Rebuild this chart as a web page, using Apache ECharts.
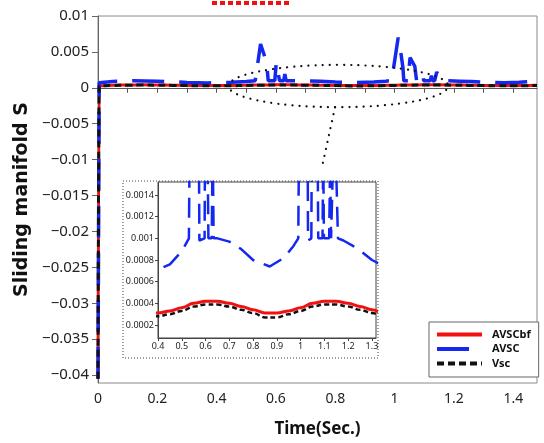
<!DOCTYPE html>
<html>
<head>
<meta charset="utf-8">
<script src="https://cdn.jsdelivr.net/npm/echarts@6/dist/echarts.min.js"></script>
<style>
  html, body { margin: 0; padding: 0; background: #fff; }
  #main { width: 544px; height: 443px; }
</style>
</head>
<body>
<div id="main"></div>
<script>
// time points used by the smooth curves (AVSCbf, Vsc)
var tWave = [0, 0.004, 0.05, 0.1, 0.15, 0.2, 0.25, 0.3, 0.35, 0.4, 0.45, 0.5, 0.55, 0.6, 0.65, 0.7,
  0.75, 0.8, 0.85, 0.9, 0.95, 1.0, 1.05, 1.1, 1.15, 1.2, 1.25, 1.3, 1.35, 1.4, 1.45, 1.48];
var avscbf = [-0.0405, 0.0003, 0.00036, 0.0004, 0.00042, 0.0004, 0.00037, 0.00034, 0.00031, 0.00031,
  0.00033, 0.00036, 0.0004, 0.00042, 0.00042, 0.0004, 0.00037, 0.00034, 0.00031, 0.00031, 0.00033,
  0.00036, 0.0004, 0.00042, 0.00042, 0.0004, 0.00037, 0.00034, 0.00031, 0.00031, 0.00033, 0.00035];
var vsc = [-0.0405, 0.00027, 0.00033, 0.00037, 0.00039, 0.00037, 0.00034, 0.00031, 0.00028, 0.00028,
  0.0003, 0.00033, 0.00037, 0.00039, 0.00039, 0.00037, 0.00034, 0.00031, 0.00027, 0.00027, 0.0003,
  0.00033, 0.00037, 0.00039, 0.00039, 0.00037, 0.00034, 0.00031, 0.00028, 0.00028, 0.0003, 0.00032];

// AVSC has chattering spikes, so its own time points
var tAvsc = [0, 0.004, 0.05, 0.12, 0.2, 0.3, 0.37, 0.45, 0.5, 0.53, 0.548, 0.568, 0.574, 0.596, 0.601,
  0.607, 0.612, 0.626, 0.63, 0.634, 0.65, 0.7, 0.75, 0.8, 0.87, 0.93, 0.97, 0.99, 1.012, 1.022, 1.028,
  1.031, 1.045, 1.052, 1.058, 1.068, 1.074, 1.092, 1.095, 1.098, 1.12, 1.124, 1.128, 1.135, 1.142,
  1.15, 1.157, 1.18, 1.22, 1.26, 1.3, 1.37, 1.42, 1.46, 1.47, 1.48];
var avsc = [-0.0405, 0.0007, 0.00088, 0.001, 0.00092, 0.00075, 0.00068, 0.00076, 0.00088, 0.001, 0.0061,
  0.0036, 0.00098, 0.001, 0.0035, 0.0035, 0.001, 0.001, 0.0019, 0.001, 0.001, 0.00097, 0.0009, 0.0008,
  0.00074, 0.00082, 0.00093, 0.001, 0.007, 0.0046, 0.0028, 0.00098, 0.001, 0.0042, 0.0042, 0.003, 0.001,
  0.001, 0.0018, 0.001, 0.001, 0.0017, 0.001, 0.001, 0.0022, 0.0016, 0.001, 0.00098, 0.00093, 0.00087,
  0.0008, 0.00072, 0.00078, 0.0009, 0.0012, 0.0016];

var mainYTicks = [-0.04, -0.035, -0.03, -0.025, -0.02, -0.015, -0.01, -0.005, 0, 0.005, 0.01];
var mainXLabels = [0, 0.2, 0.4, 0.6, 0.8, 1, 1.2, 1.4];
var mainXTicks = [0, 0.1, 0.2, 0.3, 0.4, 0.5, 0.6, 0.7, 0.8, 0.9, 1, 1.1, 1.2, 1.3, 1.4];
var insetXTicks = [0.4, 0.5, 0.6, 0.7, 0.8, 0.9, 1, 1.1, 1.2, 1.3];
var insetYTicks = [0.0002, 0.0004, 0.0006, 0.0008, 0.001, 0.0012, 0.0014];

function zip(xs, ys) {
  return xs.map(function (x, i) { return [x, ys[i]]; });
}
function fmt(v) {
  return String(+v.toFixed(6)).replace('-', '\u2212');
}

var RED = '#f21010', BLUE = '#1428f0', BLACK = '#111';
var FONT = 'Noto Sans';

var chart = echarts.init(document.getElementById('main'), null, { renderer: 'canvas' });

var option = {
  backgroundColor: '#fff',
  animation: false,
  textStyle: { fontFamily: FONT },
  grid: [
    { left: 98, top: 16, right: 7, bottom: 60, show: true, borderColor: '#8a8a8a', borderWidth: 1 },
    { left: 158, top: 182, right: 168, bottom: 105, show: true, borderColor: '#444', borderWidth: 1, z: 4 }
  ],
  legend: {
    data: ['AVSCbf', 'AVSC', 'Vsc'],
    orient: 'vertical',
    left: 429, top: 322,
    padding: [7, 8, 8, 6],
    itemGap: 3.5,
    itemWidth: 45, itemHeight: 11,
    backgroundColor: '#fff',
    borderColor: '#666', borderWidth: 1,
    itemStyle: { opacity: 0 },
    lineStyle: { width: 4 },
    z: 8,
    textStyle: { fontFamily: FONT, fontSize: 11, fontWeight: 'bold', color: '#111', padding: [0, 0, 0, 5] }
  },
  xAxis: [
    {
      type: 'value', gridIndex: 0, min: 0, max: 1.48,
      name: 'Time(Sec.)', nameLocation: 'middle', nameGap: 38,
      nameTextStyle: { fontFamily: FONT, fontSize: 17, fontWeight: 'bold', color: '#111' },
      axisLine: { lineStyle: { color: '#555' } },
      axisTick: { customValues: mainXTicks, length: 5, lineStyle: { color: '#555' } },
      axisLabel: { customValues: mainXLabels, formatter: fmt, fontSize: 14, color: '#222', margin: 9 },
      splitLine: { show: false }
    },
    {
      type: 'value', gridIndex: 1, min: 0.4, max: 1.317, z: 4,
      axisLine: { lineStyle: { color: '#444' } },
      axisTick: { customValues: insetXTicks, length: 3, lineStyle: { color: '#444' } },
      axisLabel: { customValues: insetXTicks, formatter: fmt, fontSize: 9, color: '#222', margin: 4 },
      splitLine: { show: false }
    }
  ],
  yAxis: [
    {
      type: 'value', gridIndex: 0, min: -0.0411, max: 0.01,
      name: 'Sliding manifold S', nameLocation: 'middle', nameGap: 57,
      nameTextStyle: { fontFamily: 'DejaVu Sans', fontSize: 19, fontWeight: 'bold', color: '#111' },
      axisLine: { show: true, lineStyle: { color: '#666' } },
      axisTick: { show: true, customValues: mainYTicks, length: 6, lineStyle: { color: '#666' } },
      axisLabel: { customValues: mainYTicks, formatter: fmt, fontSize: 15, color: '#222', margin: 9 },
      splitLine: { show: false }
    },
    {
      type: 'value', gridIndex: 1, min: 0.00008, max: 0.00152, z: 4,
      axisLine: { show: true, lineStyle: { color: '#444' } },
      axisTick: { show: true, customValues: insetYTicks, length: 3, lineStyle: { color: '#444' } },
      axisLabel: { customValues: insetYTicks, formatter: fmt, fontSize: 9, color: '#222', margin: 4 },
      splitLine: { show: false }
    }
  ],
  series: [
    { name: 'AVSCbf', type: 'line', xAxisIndex: 0, yAxisIndex: 0, data: zip(tWave, avscbf),
      showSymbol: false, symbol: 'none', smooth: 0.4, smoothMonotone: 'x', z: 2,
      lineStyle: { color: RED, width: 3 }, itemStyle: { color: RED } },
    { name: 'AVSC', type: 'line', xAxisIndex: 0, yAxisIndex: 0, data: zip(tAvsc, avsc),
      showSymbol: false, symbol: 'none', z: 2,
      lineStyle: { color: BLUE, width: 3.5, type: [32, 15] }, itemStyle: { color: BLUE } },
    { name: 'Vsc', type: 'line', xAxisIndex: 0, yAxisIndex: 0, data: zip(tWave, vsc),
      showSymbol: false, symbol: 'none', smooth: 0.4, smoothMonotone: 'x', z: 2,
      lineStyle: { color: BLACK, width: 3, type: [7, 4] }, itemStyle: { color: BLACK } },
    // zoomed inset
    { name: 'AVSCbf', type: 'line', xAxisIndex: 1, yAxisIndex: 1, data: zip(tWave, avscbf),
      showSymbol: false, symbol: 'none', smooth: 0.4, smoothMonotone: 'x', z: 5,
      lineStyle: { color: RED, width: 3 } },
    { name: 'AVSC', type: 'line', xAxisIndex: 1, yAxisIndex: 1, data: zip(tAvsc, avsc),
      showSymbol: false, symbol: 'none', z: 5,
      lineStyle: { color: BLUE, width: 2.5, type: [20, 10] } },
    { name: 'Vsc', type: 'line', xAxisIndex: 1, yAxisIndex: 1, data: zip(tWave, vsc),
      showSymbol: false, symbol: 'none', smooth: 0.4, smoothMonotone: 'x', z: 5,
      lineStyle: { color: BLACK, width: 2.5, type: [5, 3] } }
  ],
  graphic: [
    { id: 'insetBox', type: 'rect', z: 3, silent: true,
      shape: { x: 123, y: 181, width: 255, height: 177 },
      style: { fill: '#fff', stroke: '#444', lineWidth: 1, lineDash: [1, 2] } },
    { id: 'topMark', type: 'line', z: 3, silent: true,
      shape: { x1: 212, y1: 3, x2: 290, y2: 3 },
      style: { stroke: '#f01010', lineWidth: 4, lineDash: [5, 3] } }
  ]
};

chart.setOption(option);

// dotted ellipse around the zoomed region and the pointer to the inset
var a = chart.convertToPixel({ gridIndex: 0 }, [0.44, 0.0032]);
var b = chart.convertToPixel({ gridIndex: 0 }, [1.18, -0.0027]);
var dotStyle = { stroke: '#111', fill: null, lineWidth: 2.2, lineDash: [0.1, 7], lineCap: 'round' };
chart.setOption({
  graphic: [
    { id: 'zoomEllipse', type: 'ellipse', z: 3, silent: true,
      shape: { cx: (a[0] + b[0]) / 2, cy: (a[1] + b[1]) / 2, rx: (b[0] - a[0]) / 2, ry: (b[1] - a[1]) / 2 },
      style: dotStyle },
    { id: 'zoomPointer', type: 'line', z: 3, silent: true,
      shape: { x1: 335, y1: b[1], x2: 322, y2: 167 },
      style: dotStyle }
  ]
});
</script>
</body>
</html>
